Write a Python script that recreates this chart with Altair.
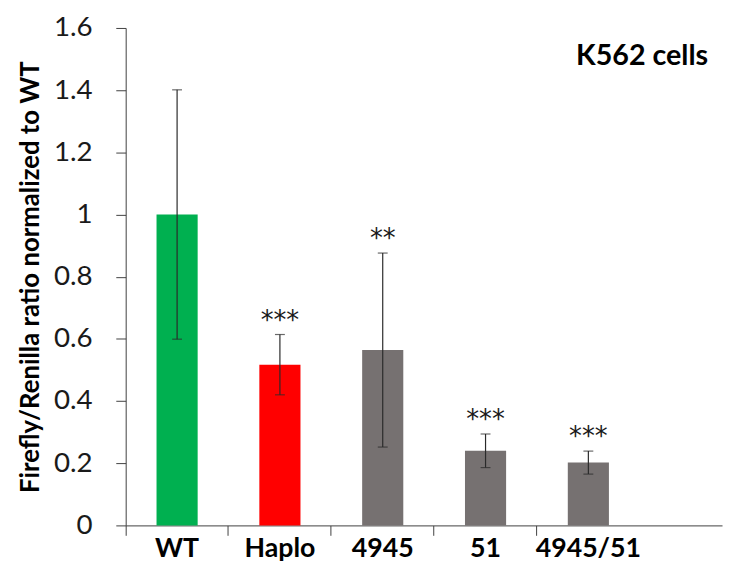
import altair as alt
import pandas as pd

categories = ["WT", "Haplo", "4945", "51", "4945/51"]
means = [1.0, 0.517, 0.564, 0.24, 0.202]
errors = [0.401, 0.097, 0.312, 0.054, 0.037]
signif = ["", "***", "**", "***", "***"]
colors = ["#00B050", "#FF0000", "#767171", "#767171", "#767171"]
y_ticks = [0, 0.2, 0.4, 0.6, 0.8, 1.0, 1.2, 1.4, 1.6]

df = pd.DataFrame({"cat": categories, "mean": means, "err": errors,
                   "sig": signif, "color": colors})
df["lo"] = df["mean"] - df["err"]
df["hi"] = df["mean"] + df["err"]

FONT = "Lato"

xscale = alt.Scale(domain=categories, paddingInner=0, paddingOuter=0.4, align=0)
x = alt.X("cat:N", scale=xscale, sort=categories,
          axis=alt.Axis(title=None, labelAngle=0, bandPosition=0, tickExtra=False,
                        tickSize=10, labelPadding=0, labelFontSize=27,
                        labelFontWeight="bold", labelFont=FONT, labelColor="#000000",
                        domainColor="#404040", tickColor="#404040"))
yscale = alt.Scale(domain=[0, 1.6], nice=False)
yaxis = alt.Axis(values=y_ticks, format="~g", grid=False, tickSize=10,
                 labelPadding=24, labelFontSize=28, labelFont=FONT,
                 labelColor="#1a1a1a", domainColor="#404040", tickColor="#404040",
                 title="Firefly/Renilla ratio normalized to WT", titleFont=FONT,
                 titleFontSize=26, titleFontWeight="bold", titleColor="#000000",
                 titlePadding=10)

base = alt.Chart(df)

bars = base.mark_bar(width=alt.RelativeBandSize(0.4)).encode(
    x=x,
    y=alt.Y("mean:Q", scale=yscale, axis=yaxis),
    color=alt.Color("color:N", scale=None),
)
err = base.mark_rule(color="#2a2a2a", strokeWidth=1.2).encode(
    x=x, y=alt.Y("lo:Q", scale=yscale), y2="hi:Q")
cap_lo = base.mark_tick(orient="horizontal", size=10, thickness=1.2, color="#2a2a2a").encode(
    x=x, y=alt.Y("lo:Q", scale=yscale))
cap_hi = base.mark_tick(orient="horizontal", size=10, thickness=1.2, color="#2a2a2a").encode(
    x=x, y=alt.Y("hi:Q", scale=yscale))
stars = base.mark_text(font="DejaVu Sans", fontSize=26, baseline="alphabetic",
                       dy=-6, color="#1a1a1a").encode(
    x=x, y=alt.Y("hi:Q", scale=yscale), text="sig:N")

chart = alt.layer(bars, err, cap_lo, cap_hi, stars).properties(
    width=603, height=503,
    autosize=alt.AutoSizeParams(type="none"),
    padding={"left": 119, "top": 17, "right": 2, "bottom": 50},
    title=alt.TitleParams("K562 cells", orient="top", anchor="end", offset=-57,
                          dx=-14, font=FONT, fontSize=29, fontWeight="bold",
                          color="#000000"),
).configure_view(stroke=None)

chart.save("out.html", embed_options={"renderer": "svg", "actions": False})
